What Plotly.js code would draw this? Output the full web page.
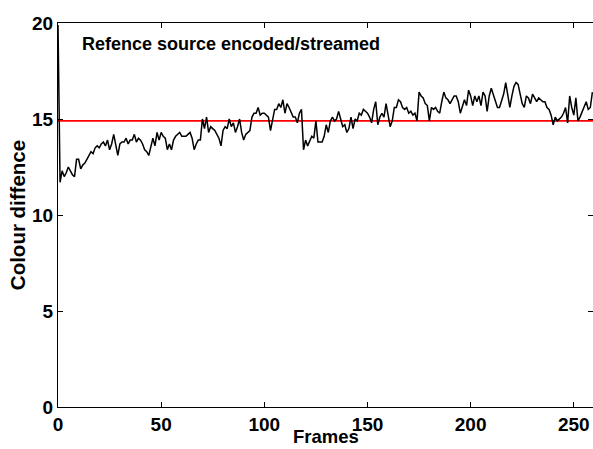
<!DOCTYPE html>
<html>
<head>
<meta charset="utf-8">
<script src="https://cdn.plot.ly/plotly-3.0.1.min.js"></script>
<style>html,body{margin:0;padding:0;background:#fff;}#chart{width:593px;height:449px;}</style>
</head>
<body>
<div id="chart"></div>
<script>
const colourDiff = [
  19.9, 11.7, 12.3, 12.0, 12.2, 12.5, 12.3, 12.1, 12.0, 12.9,
  12.9, 12.4, 12.6, 12.7, 12.9, 13.1, 13.3, 13.2, 13.5, 13.6,
  13.5, 13.7, 13.8, 13.6, 13.9, 13.4, 13.7, 14.2, 13.6, 13.1,
  13.7, 13.8, 13.8, 14.0, 13.7, 13.9, 13.9, 14.2, 13.8, 14.0,
  13.9, 13.7, 13.4, 13.3, 13.1, 13.6, 14.0, 13.6, 14.3, 13.9,
  14.3, 14.1, 14.0, 13.4, 13.7, 13.4, 13.9, 14.1, 14.2, 14.3,
  14.1, 14.1, 14.1, 14.2, 14.3, 14.0, 13.4, 13.7, 13.9, 13.9,
  15.0, 14.5, 15.1, 14.3, 14.6, 14.5, 14.4, 14.2, 14.0, 13.6,
  14.4, 14.6, 14.5, 15.0, 14.6, 14.8, 14.3, 14.6, 15.0, 14.3,
  13.9, 14.2, 14.3, 14.4, 15.1, 15.3, 15.3, 15.6, 15.2, 15.3,
  15.3, 15.2, 15.1, 14.4, 15.0, 15.5, 15.5, 15.8, 15.6, 16.0,
  15.3, 15.8, 15.6, 15.3, 15.1, 15.1, 14.8, 15.3, 15.5, 13.4,
  13.9, 13.6, 13.9, 14.1, 14.0, 14.9, 13.8, 13.8, 13.8, 14.1,
  14.7, 14.3, 14.9, 15.1, 14.9, 15.0, 15.4, 15.0, 14.6, 14.7,
  14.3, 14.5, 15.1, 14.5, 15.0, 14.9, 15.3, 15.2, 15.5, 15.4,
  15.3, 15.1, 14.8, 15.5, 15.9, 14.7, 15.1, 15.3, 15.1, 15.8,
  15.1, 14.6, 14.9, 15.6, 15.6, 16.0, 15.9, 15.6, 15.5, 15.6,
  15.3, 15.4, 15.2, 15.3, 14.9, 16.4, 16.2, 16.1, 15.8, 15.7,
  14.9, 15.6, 15.5, 15.6, 15.4, 15.3, 15.9, 16.4, 16.1, 16.0,
  15.8, 16.0, 16.2, 16.2, 15.9, 15.3, 15.6, 16.0, 15.7, 16.5,
  16.2, 15.7, 16.2, 15.9, 16.2, 15.7, 16.4, 16.2, 15.4, 16.2,
  16.6, 16.3, 15.9, 15.6, 15.6, 16.0, 16.3, 16.9, 16.2, 15.6,
  16.2, 16.7, 16.9, 16.8, 16.3, 15.8, 15.6, 16.2, 16.1, 15.8,
  16.3, 16.1, 15.9, 16.1, 16.0, 15.9, 15.9, 15.6, 15.5, 15.2,
  14.7, 15.1, 14.9, 15.0, 15.1, 15.3, 15.6, 14.8, 16.2, 15.6,
  15.2, 16.1, 14.9, 15.1, 15.4, 15.6, 15.9, 15.5, 15.6, 16.4
];
const frames = colourDiff.map((_, i) => i);
const thresholdX = [0, 260];
const thresholdY = [14.9, 14.9];
const xTicks = [0, 50, 100, 150, 200, 250];
const yTicks = [0, 5, 10, 15, 20];

const fam = 'Liberation Sans, Arial, sans-serif';
const tickFont = {family: fam, size: 19, color: '#000', weight: 'bold'};
const axTitleFont = {family: fam, size: 20.5, color: '#000', weight: 'bold'};
const xTitleFont = {family: fam, size: 18.5, color: '#000', weight: 'bold'};
const titleFont = {family: fam, size: 18, color: '#000', weight: 'bold'};

const traces = [
  {x: thresholdX, y: thresholdY, type: 'scatter', mode: 'lines',
   line: {color: '#ff0000', width: 1.6}, hoverinfo: 'skip'},
  {x: frames, y: colourDiff, type: 'scatter', mode: 'lines',
   line: {color: '#000000', width: 1.5}}
];

const axisCommon = {
  showgrid: false, zeroline: false, showline: true, linecolor: '#000', linewidth: 1,
  mirror: 'ticks', ticks: 'inside', ticklen: 5, tickwidth: 1, tickcolor: '#000',
  tickfont: tickFont, automargin: false
};

const layout = {
  width: 593, height: 449,
  margin: {l: 58, r: 0, t: 23, b: 42},
  paper_bgcolor: '#fff', plot_bgcolor: '#fff',
  showlegend: false,
  font: tickFont,
  xaxis: Object.assign({}, axisCommon, {
    range: [0, 259.3], tickvals: xTicks, ticktext: xTicks.map(String)
  }),
  yaxis: Object.assign({}, axisCommon, {
    range: [0, 20], tickvals: yTicks, ticktext: yTicks.map(String),
    title: {text: 'Colour diffence', font: axTitleFont, standoff: 0}
  }),
  annotations: [{
    text: 'Refence source encoded/streamed', xref: 'paper', yref: 'paper',
    x: 0.041, y: 0.945, xanchor: 'left', yanchor: 'middle', showarrow: false,
    font: titleFont
  }, {
    text: 'Frames', xref: 'paper', yref: 'paper',
    x: 0.5, y: -0.078, xanchor: 'center', yanchor: 'middle', showarrow: false,
    borderpad: 0, font: xTitleFont
  }]
};

Plotly.newPlot('chart', traces, layout, {staticPlot: true, displayModeBar: false});
</script>
</body>
</html>
